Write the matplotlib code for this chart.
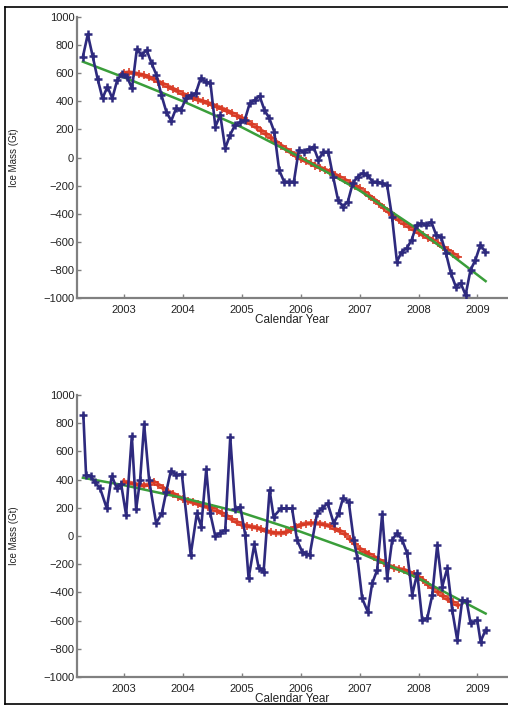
import numpy as np
import matplotlib
matplotlib.use("Agg")
import matplotlib.pyplot as plt
from matplotlib.lines import Line2D

plt.rcParams['font.family'] = ['Liberation Sans', 'DejaVu Sans']

# top panel: monthly mass, 2002.30 onwards
top_start = 2002.30
top_mass = [717, 877, 720, 560, 421, 504, 421, 552, 592, 575,
            492, 772, 730, 765, 670, 587, 445, 326, 260, 350,
            338, 421, 445, 457, 564, 540, 528, 219, 303, 65,
            160, 231, 250, 267, 386, 409, 438, 338, 279, 184,
            -89, -172, -172, -172, 53, 41, 60, 77, -18, 41,
            41, -137, -302, -350, -314, -184, -137, -112, -124, -172,
            -172, -184, -196, -421, -741, -670, -646, -587, -480, -469,
            -480, -457, -551, -564, -682, -824, -919, -895, -978, -801,
            -729, -623, -670]

# smoothed series, monthly from 2003.0
top_smooth = [600, 605, 600, 592, 585, 572, 558, 540, 522, 505, 488, 470,
              452, 438, 425, 412, 400, 388, 376, 362, 348, 332, 315, 298,
              280, 258, 236, 214, 190, 165, 140, 112, 85, 60, 36, 12,
              -8, -25, -42, -58, -73, -88, -104, -122, -141, -160, -180, -200,
              -220, -247, -274, -300, -330, -360, -390, -418, -445, -470, -492, -513,
              -535, -553, -572, -590, -612, -636, -660, -684, -708]

top_fit_t = [2002.30, 2003, 2004, 2005, 2006, 2007, 2008, 2009.14]
top_fit = [682, 570, 400, 215, 0, -235, -515, -880]

# bottom panel
bot_t = [2002.308, 2002.354, 2002.43, 2002.507, 2002.592, 2002.706, 2002.791, 2002.876, 2002.949,
         2003.034, 2003.131, 2003.204, 2003.272, 2003.340, 2003.425, 2003.544, 2003.641, 2003.714,
         2003.794, 2003.884, 2003.981, 2004.131, 2004.236, 2004.310, 2004.395, 2004.463, 2004.548,
         2004.633, 2004.718, 2004.803, 2004.888, 2004.973, 2005.058, 2005.114, 2005.211, 2005.287,
         2005.369, 2005.471, 2005.539, 2005.665, 2005.755, 2005.852, 2005.937, 2006.022, 2006.095,
         2006.151, 2006.277, 2006.362, 2006.457, 2006.560, 2006.645, 2006.719, 2006.815, 2006.900,
         2006.963, 2007.043, 2007.138, 2007.213, 2007.298, 2007.383, 2007.468, 2007.553, 2007.638,
         2007.723, 2007.808, 2007.893, 2007.978, 2008.063, 2008.148, 2008.233, 2008.318, 2008.403,
         2008.488, 2008.573, 2008.658, 2008.743, 2008.816, 2008.884, 2008.998, 2009.054, 2009.139]
bot_mass = [858, 433, 425, 380, 338, 196, 426, 338, 370,
            149, 709, 189, 397, 794, 397, 90, 161, 310,
            463, 433, 438, -135, 161, 66, 473, 161, 0,
            21, 43, 700, 189, 208, 7, -300, -60, -230,
            -253, 326, 137, 196, 196, 196, -28, -110, -125,
            -135, 161, 196, 232, 90, 161, 270, 243, -28,
            -158, -442, -537, -336, -241, 156, -300, -28, 21,
            -28, -123, -418, -264, -596, -584, -420, -64, -359,
            -229, -527, -738, -454, -460, -619, -596, -749, -667]

bot_smooth = [385, 378, 370, 362, 358, 365, 385, 362, 340, 315, 300, 280,
              262, 250, 238, 228, 215, 205, 196, 178, 160, 140, 118, 98,
              80, 72, 66, 60, 48, 35, 25, 20, 20, 25, 45, 65,
              80, 88, 90, 90, 88, 80, 70, 50, 35, 15, -20, -55,
              -90, -110, -130, -150, -170, -190, -210, -225, -235, -240, -255, -270,
              -290, -315, -345, -370, -400, -425, -450, -470, -490]

bot_fit_t = [2002.30, 2003, 2004, 2005, 2006, 2007, 2008, 2009.14]
bot_fit = [413, 360, 270, 165, 30, -120, -300, -550]

years = [2003, 2004, 2005, 2006, 2007, 2008, 2009]
yticks = list(range(-1000, 1001, 200))

navy = '#2e2a7e'
red = '#d8341e'
green = '#3a9e3a'
gray = '#808080'
txt = '#222222'

fig = plt.figure(figsize=(5.08, 7.05), dpi=100)


def panel(rect, t, mass, smooth, fit_t, fit):
    ax = fig.add_axes(rect)
    ts = 2003.0 + np.arange(len(smooth)) / 12
    ax.plot(ts, smooth, color=red, lw=3.2, marker='+', ms=6, mew=1.4, alpha=0.8, zorder=2)
    ax.plot(fit_t, fit, color=green, lw=1.8, zorder=3)
    ax.plot(t, mass, color=navy, lw=1.9, marker='+', ms=6, mew=1.8, zorder=4)
    ax.set_xlim(2002.2, 2009.52)
    ax.set_ylim(-1000, 1000)
    ax.set_xticks(years)
    ax.set_yticks(yticks)
    for s in ['top', 'right']:
        ax.spines[s].set_visible(False)
    for s in ['left', 'bottom']:
        ax.spines[s].set_color(gray)
        ax.spines[s].set_linewidth(1.6)
    ax.tick_params(direction='in', length=3, width=1, color=gray,
                   labelsize=8, labelcolor=txt, pad=2)
    ax.tick_params(axis='x', pad=5)
    for lab in ax.get_xticklabels() + ax.get_yticklabels():
        lab.set_fontweight('medium')
    ax.set_xlabel('Calendar Year', fontsize=8.5, color=txt, labelpad=-1)
    ax.set_ylabel('Ice Mass (Gt)', fontsize=7, color=txt)
    ax.yaxis.set_label_coords(-0.135, 0.5)
    return ax


panel([77 / 508, 1 - 298 / 705, 431 / 508, 281 / 705],
      np.array(top_start) + np.arange(len(top_mass)) / 12, top_mass,
      top_smooth, top_fit_t, top_fit)
panel([77 / 508, 1 - 677 / 705, 431 / 508, 282 / 705],
      bot_t, bot_mass, bot_smooth, bot_fit_t, bot_fit)

# outer frame
x0 = 5 / 508
y_top = 1 - 7 / 705
y_bot = 1 - 703.5 / 705
fig.add_artist(Line2D([x0, x0], [y_bot, y_top], color='black', lw=1.2))
fig.add_artist(Line2D([x0, 1], [y_top, y_top], color='black', lw=1.2))
fig.add_artist(Line2D([x0, 1], [y_bot, y_bot], color='black', lw=1.2))

fig.savefig('out.png', dpi=100)
